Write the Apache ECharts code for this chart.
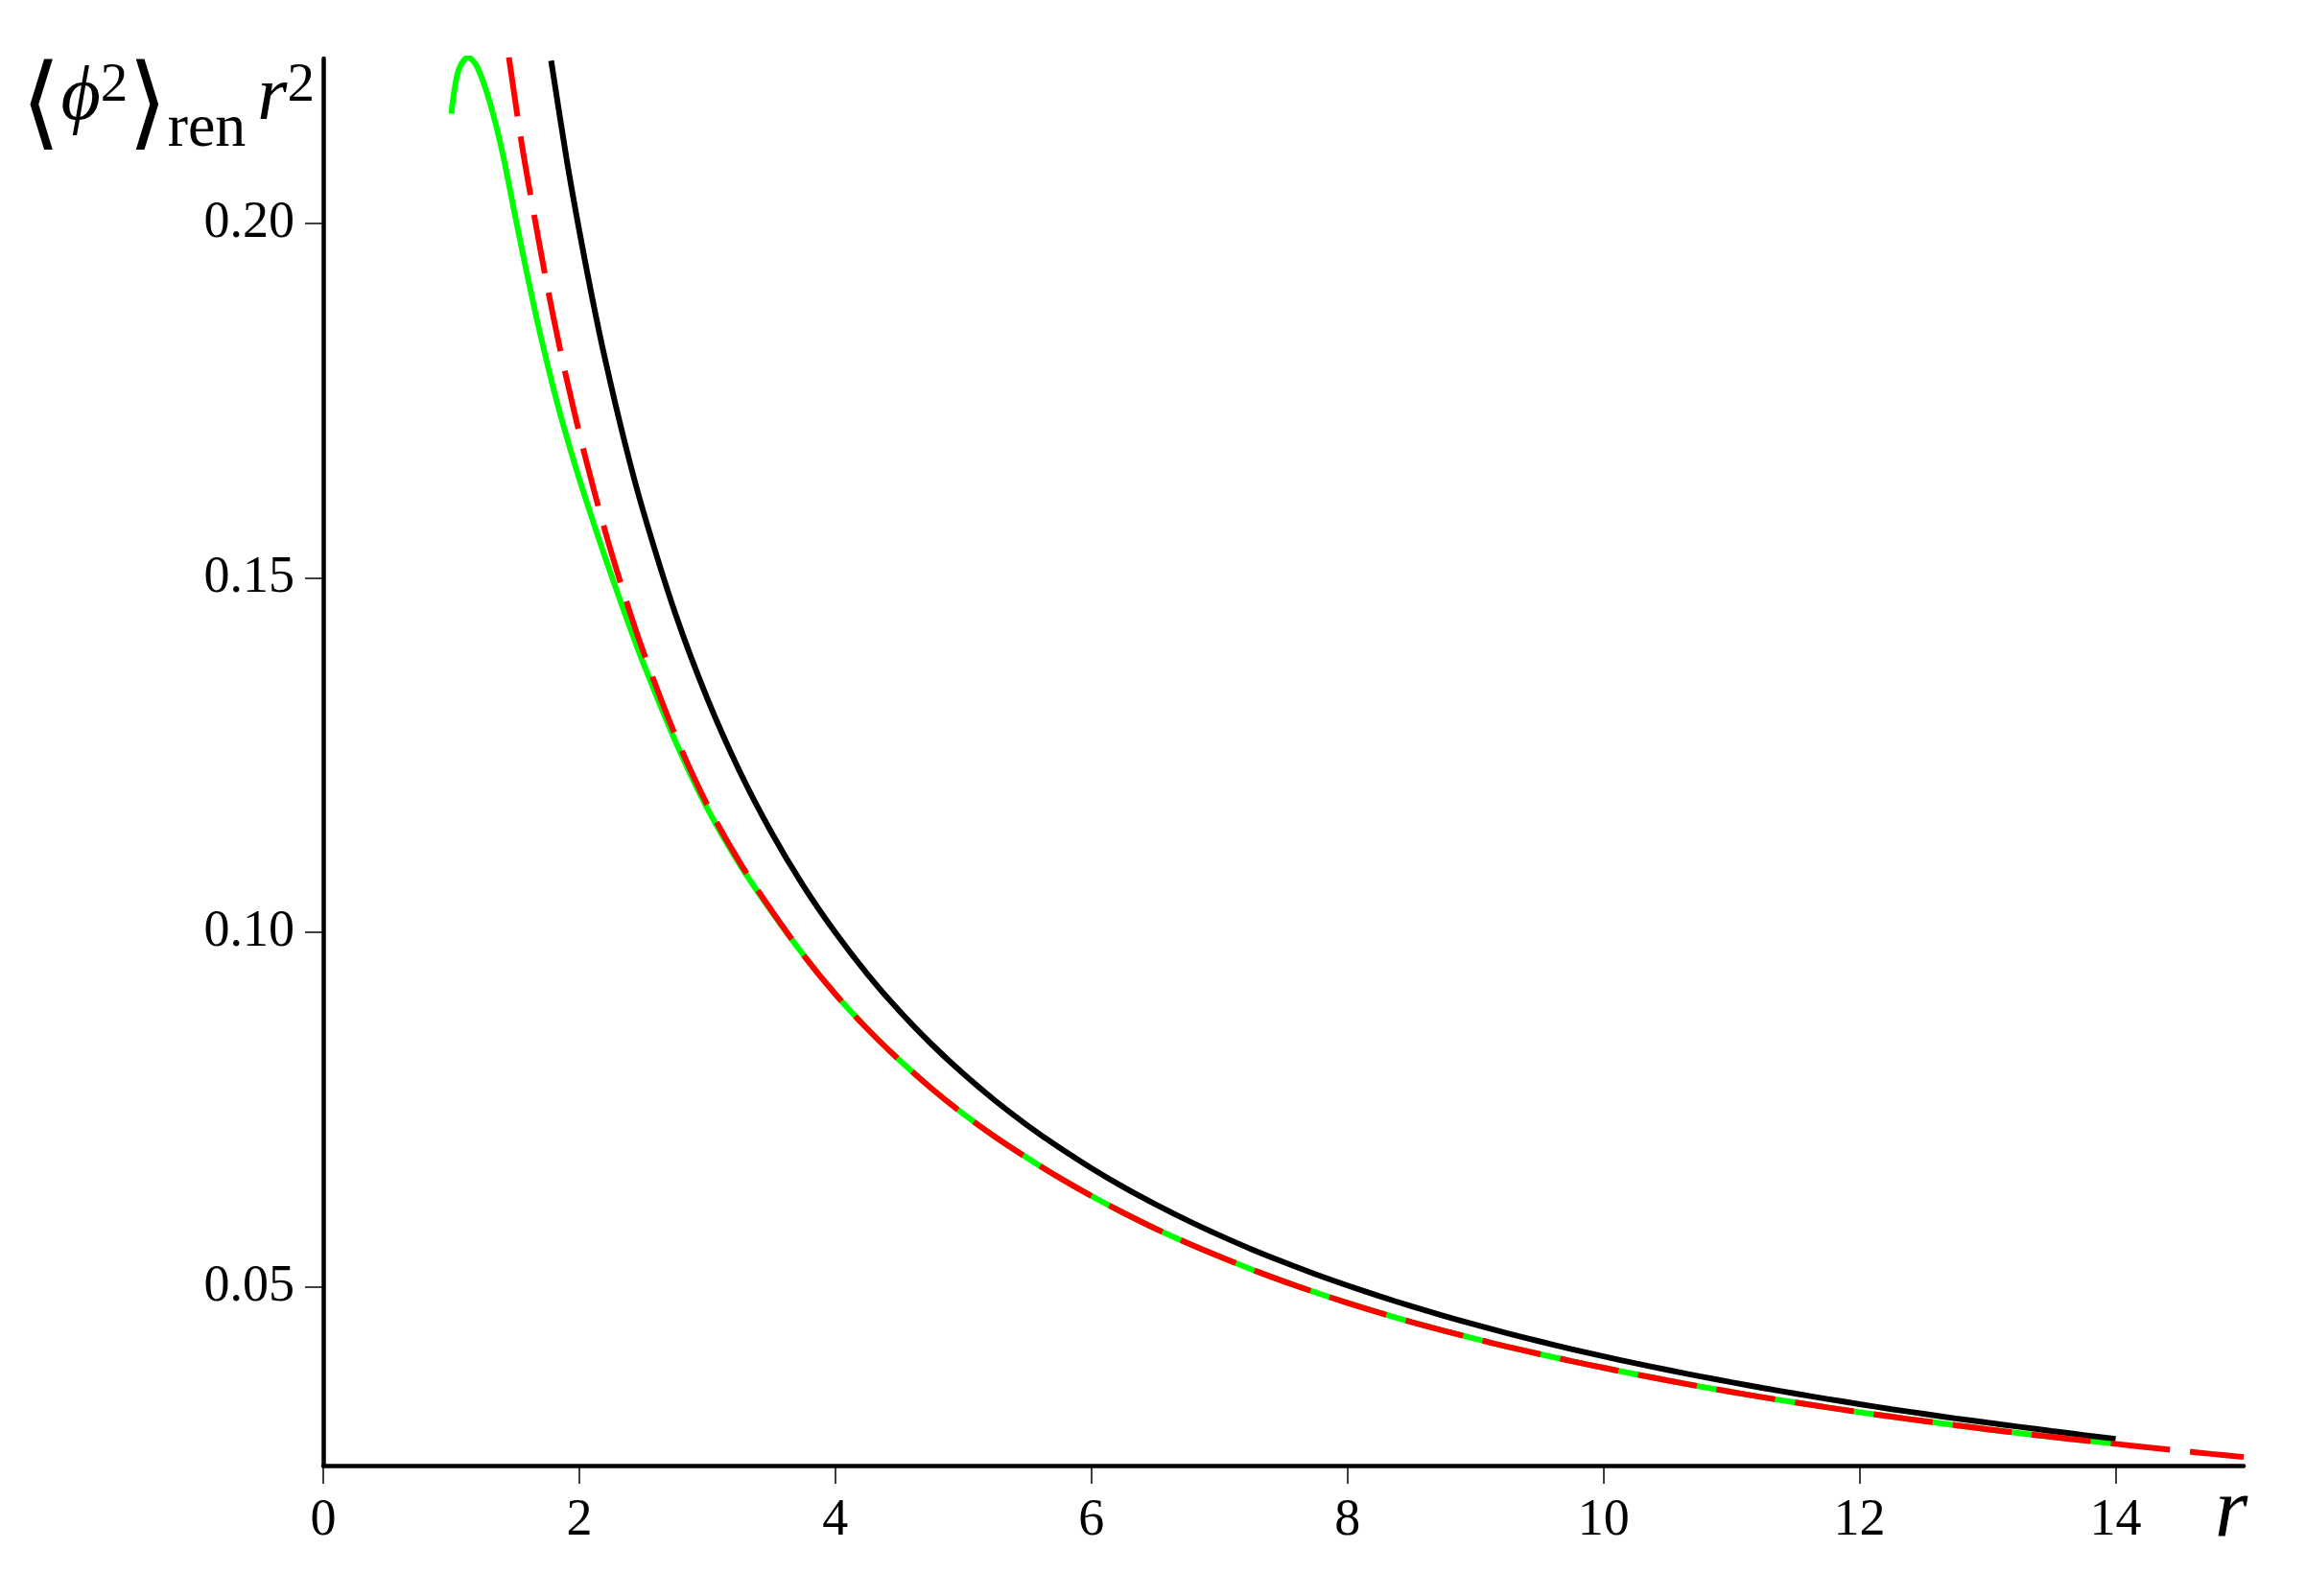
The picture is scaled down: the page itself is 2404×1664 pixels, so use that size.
<!DOCTYPE html>
<html>
<head>
<meta charset="utf-8">
<script src="https://cdn.jsdelivr.net/npm/echarts@6/dist/echarts.min.js"></script>
<style>
  html, body { margin: 0; padding: 0; background: #ffffff; }
  #chart { width: 2404px; height: 1664px; }
</style>
</head>
<body>
<div id="chart"></div>
<script>
// ---- data ----
const xTicks = [0, 2, 4, 6, 8, 10, 12, 14];
const yTicks = [0.05, 0.10, 0.15, 0.20];
const yTickLabels = ['0.05', '0.10', '0.15', '0.20'];

// black solid curve
const blackR = [1.78, 1.9, 2.0, 2.1, 2.2, 2.35, 2.5, 2.75, 3.0, 3.25, 3.5, 3.75, 4.0, 4.25, 4.5, 4.75, 5.0, 5.25, 5.5, 5.75, 6.0, 6.25, 6.5, 6.75, 7.0, 7.25, 7.5, 7.75, 8.0, 8.25, 8.5, 8.75, 9.0, 9.25, 9.5, 9.75, 10.0, 10.25, 10.5, 10.75, 11.0, 11.25, 11.5, 11.75, 12.0, 12.25, 12.5, 12.75, 13.0, 13.25, 13.5, 13.75, 14.0];
const blackV = [0.2230, 0.2092, 0.1990, 0.1896, 0.1810, 0.1695, 0.1594, 0.1450, 0.1330, 0.12283, 0.11414, 0.10659, 0.1000, 0.09414, 0.08893, 0.08427, 0.08006, 0.07625, 0.07279, 0.06964, 0.06675, 0.06409, 0.06166, 0.05939, 0.05729, 0.05532, 0.05351, 0.05179, 0.0502, 0.04869, 0.04727, 0.04593, 0.04467, 0.04346, 0.04232, 0.04123, 0.0402, 0.03922, 0.03829, 0.0374, 0.03655, 0.03573, 0.03494, 0.03419, 0.03346, 0.03276, 0.0321, 0.03145, 0.03085, 0.03026, 0.02967, 0.02911, 0.02857];

// green solid curve
const greenR = [1.0, 1.03, 1.06, 1.1, 1.134, 1.2, 1.3, 1.4, 1.5, 1.6, 1.7, 1.8, 1.9, 2.0, 2.1, 2.2, 2.35, 2.5, 2.75, 3.0, 3.25, 3.5, 3.75, 4.0, 4.25, 4.5, 4.75, 5.0, 5.25, 5.5, 5.75, 6.0, 6.25, 6.5, 6.75, 7.0, 7.25, 7.5, 7.75, 8.0, 8.25, 8.5, 8.75, 9.0, 9.25, 9.5, 9.75, 10.0, 10.25, 10.5, 10.75, 11.0, 11.25, 11.5, 11.75, 12.0, 12.25, 12.5, 12.75, 13.0, 13.25, 13.5, 13.75, 14.0];
const greenV = [0.2155, 0.2195, 0.2218, 0.2231, 0.2234, 0.2222, 0.2172, 0.2100, 0.2010, 0.1922, 0.1840, 0.1766, 0.1700, 0.1640, 0.1584, 0.1530, 0.1453, 0.1380, 0.1270, 0.1175, 0.1097, 0.1030, 0.09685, 0.0913, 0.0864, 0.0820, 0.07802, 0.0744, 0.07114, 0.06818, 0.06541, 0.06283, 0.06045, 0.05823, 0.05619, 0.05429, 0.05248, 0.0508, 0.04923, 0.04775, 0.04636, 0.04506, 0.04383, 0.04267, 0.04157, 0.04053, 0.03954, 0.0386, 0.03768, 0.03681, 0.03597, 0.03518, 0.03442, 0.0337, 0.033, 0.03233, 0.03169, 0.03108, 0.03049, 0.02992, 0.02937, 0.02885, 0.02834, 0.02786];

// red dashed curve
const redR = [1.45, 1.55, 1.65, 1.75, 1.85, 1.95, 2.05, 2.2, 2.35, 2.5, 2.75, 3.0, 3.25, 3.5, 3.75, 4.0, 4.25, 4.5, 4.75, 5.0, 5.25, 5.5, 5.75, 6.0, 6.25, 6.5, 6.75, 7.0, 7.25, 7.5, 7.75, 8.0, 8.25, 8.5, 8.75, 9.0, 9.25, 9.5, 9.75, 10.0, 10.25, 10.5, 10.75, 11.0, 11.25, 11.5, 11.75, 12.0, 12.25, 12.5, 12.75, 13.0, 13.25, 13.5, 13.75, 14.0, 14.25, 14.5, 14.75, 15.0];
const redV = [0.22345, 0.21129, 0.20091, 0.19114, 0.18227, 0.17426, 0.16683, 0.15673, 0.14774, 0.1396, 0.12782, 0.1180, 0.1100, 0.10314, 0.09685, 0.0913, 0.0864, 0.0820, 0.07802, 0.0744, 0.07114, 0.06818, 0.06541, 0.06283, 0.06045, 0.05823, 0.05619, 0.05429, 0.05248, 0.0508, 0.04923, 0.04775, 0.04636, 0.04506, 0.04383, 0.04267, 0.04157, 0.04053, 0.03954, 0.0386, 0.03768, 0.03681, 0.03597, 0.03518, 0.03442, 0.0337, 0.033, 0.03233, 0.03169, 0.03108, 0.03049, 0.02992, 0.02937, 0.02885, 0.02834, 0.02786, 0.02737, 0.0269, 0.02644, 0.0260];

const xMin = 0, xMax = 15;
const yMin = 0.0248, yMax = 0.2233;

function pairs(xs, ys) { return xs.map((x, i) => [x, ys[i]]); }

const FONT = "'Liberation Serif', 'DejaVu Serif', serif";

const chart = echarts.init(document.getElementById('chart'), null, { renderer: 'canvas' });
chart.setOption({
  backgroundColor: '#ffffff',
  animation: false,
  grid: { left: 337, right: 65, top: 61, bottom: 136, containLabel: false },
  xAxis: {
    type: 'value',
    min: xMin, max: xMax,
    name: 'r',
    nameLocation: 'end',
    nameGap: -13,
    nameTextStyle: {
      fontFamily: FONT, fontStyle: 'italic', fontSize: 88, color: '#000',
      align: 'center', verticalAlign: 'top', padding: [6, 0, 0, 0]
    },
    axisLine: { onZero: false, lineStyle: { color: '#000', width: 4.5 } },
    axisTick: { show: true, length: 19, lineStyle: { color: '#000', width: 1.5 }, customValues: xTicks },
    axisLabel: { fontFamily: FONT, fontSize: 54, color: '#000', margin: 31, customValues: xTicks },
    splitLine: { show: false }
  },
  yAxis: {
    type: 'value',
    min: yMin, max: yMax,
    name: '{br|⟨}{phi|ϕ}{sup|2}{br|⟩}{sub|ren}{r|r}{sup|2}',
    nameLocation: 'end',
    nameGap: -40,
    nameTextStyle: {
      align: 'right', verticalAlign: 'middle', padding: [0, 9, 0, 0],
      rich: {
        br: { fontFamily: "'DejaVu Serif', serif", fontSize: 106, color: '#000', padding: [26, 0, 0, 0] },
        phi: { fontFamily: FONT, fontStyle: 'italic', fontSize: 80, color: '#000', padding: [4, 0, 0, 0] },
        sup: { fontFamily: FONT, fontSize: 57, color: '#000', padding: [0, 0, 21, 0] },
        sub: { fontFamily: FONT, fontSize: 64, color: '#000', padding: [68, 0, 0, 0] },
        r: { fontFamily: FONT, fontStyle: 'italic', fontSize: 80, color: '#000', padding: [4, 0, 0, 12] }
      }
    },
    axisLine: { onZero: false, lineStyle: { color: '#000', width: 4.5 } },
    axisTick: { show: true, length: 19, lineStyle: { color: '#000', width: 1.5 }, customValues: yTicks },
    axisLabel: {
      fontFamily: FONT, fontSize: 54, color: '#000', margin: 30, customValues: yTicks,
      formatter: function (v) {
        const i = yTicks.findIndex(t => Math.abs(t - v) < 1e-9);
        return i >= 0 ? yTickLabels[i] : '';
      }
    },
    splitLine: { show: false }
  },
  series: [
    {
      name: 'green', type: 'line', data: pairs(greenR, greenV),
      showSymbol: false, smooth: 0.3,
      lineStyle: { color: '#00ff00', width: 6 }, z: 2
    },
    {
      name: 'black', type: 'line', data: pairs(blackR, blackV),
      showSymbol: false, smooth: 0.3,
      lineStyle: { color: '#000000', width: 6 }, z: 3
    },
    {
      name: 'red', type: 'line', data: pairs(redR, redV),
      showSymbol: false, smooth: 0.3,
      lineStyle: { color: '#ff0000', width: 6, type: [62, 21] }, z: 4
    }
  ]
});
</script>
</body>
</html>
